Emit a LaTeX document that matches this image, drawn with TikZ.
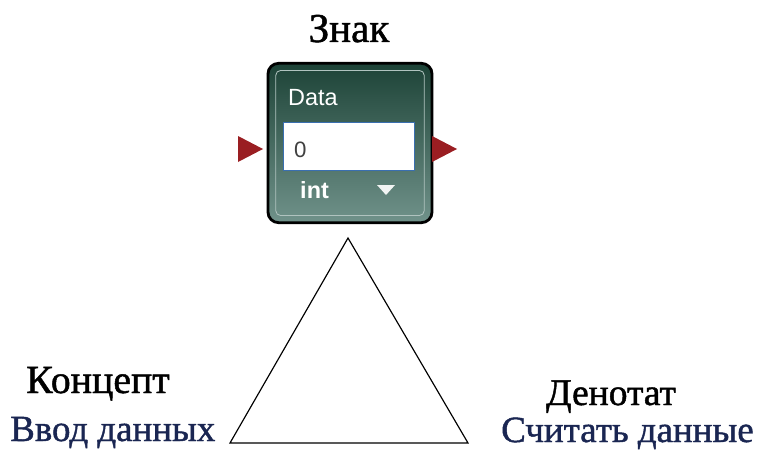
\documentclass[tikz,border=0pt]{standalone}
\usepackage{fontspec}
\setmainfont{Liberation Serif}[FakeBold=0.6]
\newfontfamily\heavyserif{Liberation Serif}[FakeBold=1.2]
\setsansfont{Liberation Sans}
\usetikzlibrary{calc}

\definecolor{blockdark}{HTML}{1D4337}
\definecolor{blocklight}{HTML}{70928A}
\definecolor{portred}{HTML}{9A1E22}
\definecolor{fieldblue}{HTML}{3A6FB0}
\definecolor{labelblue}{HTML}{1A2652}

\begin{document}
\begin{tikzpicture}[x=0.03cm, y=-0.03cm,
                    block/.style={draw=black, line width=2.4pt, rounded corners=9pt,
                                  top color=blockdark, bottom color=blocklight,
                                  minimum width=4.92cm, minimum height=4.78cm, inner sep=0pt},
                    inset/.style={draw=white!45!blocklight, line width=0.7pt, rounded corners=4pt,
                                  minimum width=4.45cm, minimum height=4.35cm, inner sep=0pt},
                    field/.style={draw=fieldblue, fill=white, line width=0.8pt,
                                  minimum width=3.95cm, minimum height=1.44cm, inner sep=0pt},
                    port/.style={fill=portred},
                    ui/.style={font=\sffamily\fontsize{20}{24}\selectfont, inner sep=0pt, anchor=base west},
                    title/.style={font=\heavyserif\fontsize{35}{40}\selectfont, inner sep=0pt, anchor=base},
                    corner/.style={font=\heavyserif\fontsize{34}{40}\selectfont, inner sep=0pt, anchor=base},
                    value/.style={font=\heavyserif\fontsize{31.5}{36}\selectfont, text=labelblue, inner sep=0pt}]
    \useasboundingbox (0,0) rectangle (759,450);

    % the sign: a data block
    \node[title] (sign) at (349,42) {Знак};
    \node[block] (data) at (350,143) {};
    \node[inset] at (data) {};
    \node[ui, text=white] (datalbl) at (288,105) {Data};
    \node[field] (input) at (349,146) {};
    \node[ui, text=black!75, font=\sffamily\fontsize{19}{22}\selectfont] (zero) at (294,157) {0};
    \node[ui, text=white, font=\sffamily\bfseries\fontsize{20}{24}\selectfont] (type) at (300,198) {int};
    \coordinate (menu) at (386,190);
    \fill[white!90!blocklight] ($(menu)+(-9,-5)$) -- ($(menu)+(9,-5)$) -- ($(menu)+(0,5)$) -- cycle;

    % ports
    \coordinate (inport) at (251,149);
    \coordinate (outport) at (445,149);
    \fill[port] ($(inport)+(-13,-13)$) -- ($(inport)+(12,0)$) -- ($(inport)+(-13,13)$) -- cycle;
    \fill[port] ($(outport)+(-13,-13)$) -- ($(outport)+(12,0)$) -- ($(outport)+(-13,13)$) -- cycle;

    % semiotic triangle
    \coordinate (top) at (348,238);
    \coordinate (left) at (230,443);
    \coordinate (right) at (468,443);
    \draw[line width=1pt] (top) -- (left) -- (right) -- cycle;

    \node[corner] (concept) at (98,393) {Концепт};
    \node[value, anchor=base west] (input data) at (10,441) {Ввод данных};
    \node[corner, font=\heavyserif\fontsize{32}{38}\selectfont] (denot) at (611,405) {Денотат};
    \node[value, anchor=base west] (read data) at (501,442) {Считать данные};
\end{tikzpicture}
\end{document}
